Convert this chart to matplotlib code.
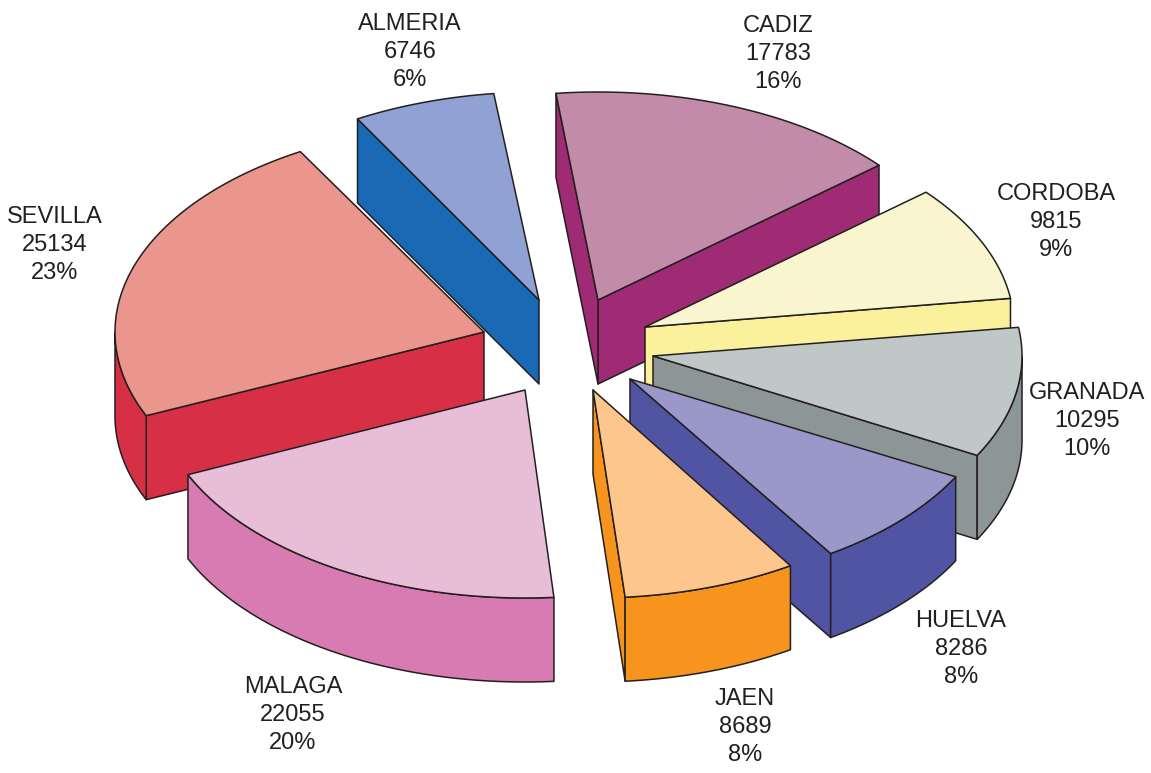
import numpy as np
import matplotlib
matplotlib.use("Agg")
import matplotlib.pyplot as plt
from matplotlib.patches import Polygon

# --- data (counter-clockwise from CADIZ) ---
names = ["CADIZ", "ALMERIA", "SEVILLA", "MALAGA", "JAEN", "HUELVA", "GRANADA", "CORDOBA"]
values = [17783, 6746, 25134, 22055, 8689, 8286, 10295, 9815]
percents = [16, 6, 23, 20, 8, 8, 10, 9]

# --- style / layout ---
top_colors = ["#C38BAA", "#90A2D3", "#EA968C", "#E8BDD8", "#FCC68D", "#9A98C9", "#C0C7C7", "#F9F6CF"]
side_colors = ["#9E2B74", "#1A69B4", "#D72F46", "#D87BB2", "#F7941E", "#5153A3", "#8C9696", "#FBF09B"]
center = (574, 345)
explode = [(24, -45), (-35, -45), (-90, -13), (-49, 45), (19, 45), (56, 34), (79, 11), (71, -18)]
# hand-drawn perspective: small per-slice angle corrections (degrees) at both edges
angle_trim = [(0, -2.7), (-2.2, -2.1), (-1.7, -1.0), (-0.7, -3.2), (-2.7, -4.1), (-3.5, -1.9), (-2.4, 0), (0, 0)]
label_pos = [(778, 54), (410, 52), (55, 245), (293, 715), (745, 727), (961, 649), (1087, 421), (1056, 222)]
draw_order = ["CADIZ", "CORDOBA", "GRANADA", "HUELVA", "JAEN", "ALMERIA", "SEVILLA", "MALAGA"]
RX, RY, DEPTH = 369, 208, 84
START_ANGLE = 40.4
EDGE = "#231F20"
LW = 1.1

plt.rcParams["font.family"] = ["Liberation Sans", "DejaVu Sans"]
fig = plt.figure(figsize=(11.51, 7.73), dpi=100)
ax = fig.add_axes([0, 0, 1, 1])
ax.set_xlim(0, 1151)
ax.set_ylim(773, 0)
ax.axis("off")

sweeps = np.array(values) / np.sum(values) * 360
starts = START_ANGLE + np.concatenate(([0], np.cumsum(sweeps)[:-1]))


def rim(cx, cy, a0, a1, n=80):
    t = np.radians(np.linspace(a0, a1, n))
    return np.column_stack((cx + RX * np.cos(t), cy - RY * np.sin(t)))


def wall(upper, color, z):
    lower = upper[::-1] + np.array([0, DEPTH])
    ax.add_patch(Polygon(np.vstack((upper, lower)), closed=True, fc=color, ec=EDGE,
                         lw=LW, joinstyle="round", zorder=z))


for name in draw_order:
    i = names.index(name)
    z = 2 + draw_order.index(name)
    cx, cy = center[0] + explode[i][0], center[1] + explode[i][1]
    a0, a1 = starts[i] + angle_trim[i][0], starts[i] + sweeps[i] + angle_trim[i][1]
    apex = np.array([[cx, cy]], dtype=float)
    if np.cos(np.radians(a0)) > 0:
        wall(np.vstack((apex, rim(cx, cy, a0, a0, 1))), side_colors[i], z)
    if np.cos(np.radians(a1)) < 0:
        wall(np.vstack((apex, rim(cx, cy, a1, a1, 1))), side_colors[i], z)
    for k in (0, 360):
        lo, hi = max(a0, 180 + k), min(a1, 360 + k)
        if hi > lo:
            wall(rim(cx, cy, lo, hi), side_colors[i], z)
    ax.add_patch(Polygon(np.vstack((apex, rim(cx, cy, a0, a1))), closed=True, fc=top_colors[i],
                         ec=EDGE, lw=LW, joinstyle="round", zorder=z))

for i, name in enumerate(names):
    ax.text(label_pos[i][0], label_pos[i][1], f"{name}\n{values[i]}\n{percents[i]}%",
            ha="center", va="center", ma="center", fontsize=17, color=EDGE, linespacing=1.35, zorder=20)

fig.savefig("out.png", dpi=100, facecolor="white")
